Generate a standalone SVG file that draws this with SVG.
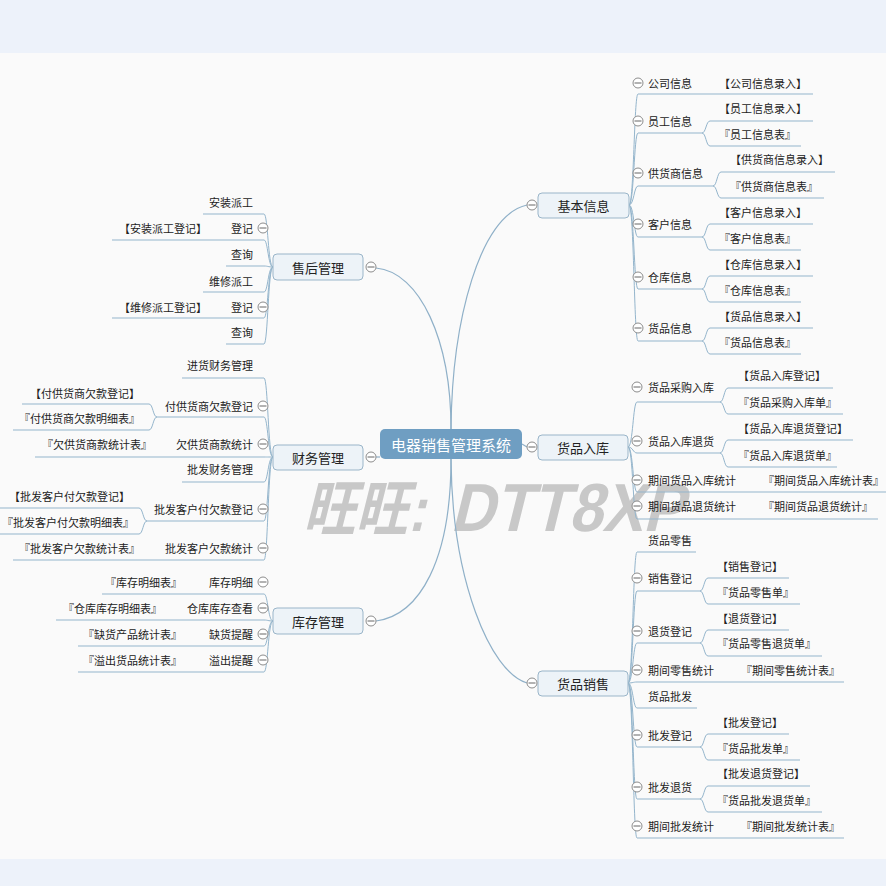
<svg xmlns="http://www.w3.org/2000/svg" xmlns:xlink="http://www.w3.org/1999/xlink" width="886" height="886" viewBox="0 0 886 886">
<defs>
<style>
.ln{fill:none;stroke:#94b5cc;stroke-width:1}
.ct{fill:none;stroke:#8fb0c8;stroke-width:1.2}
.t{font-family:"Noto Sans CJK SC","Microsoft YaHei",sans-serif;font-size:11px;fill:#222;dominant-baseline:central}
.e{text-anchor:end}
.m{font-size:13px;text-anchor:middle}
.box{fill:#edf3f8;stroke:#9ab5c9;stroke-width:1}
.wm{font-family:"Liberation Sans","Noto Sans CJK SC",sans-serif;font-weight:bold;fill:#c8c8c8}
</style>
<g id="tog"><circle r="5" fill="#fff" stroke="#8c8c8c" stroke-width="1"/><path d="M-3.5 0H3.5" stroke="#666" stroke-width="1"/></g>
</defs>
<rect width="886" height="886" fill="#edf2fa"/>
<rect y="53" width="886" height="806" fill="#fafafa"/>

<g id="watermark" transform="translate(0,531) skewX(-14)">
<text class="wm" x="303" y="0" font-size="62" textLength="122" lengthAdjust="spacingAndGlyphs">旺旺:</text>
<text class="wm" x="450" y="0" font-size="68" textLength="233" lengthAdjust="spacingAndGlyphs">DTT8XP</text>
</g>

<g id="connectors">
<path class="ct" d="M376 268 C420 272 451 340 451 429"/>
<path class="ct" d="M451 429 C452 320 480 215 527 205"/>
<path class="ct" d="M451 459 C451 560 420 615 376 621"/>
<path class="ct" d="M451 459 C452 580 490 672 527 683"/>
<path class="ct" d="M376 457 H380"/>
<path class="ct" d="M522 444 L527 447"/>
<path class="ln" d="M629 205 C634 205 634 94 638 94 H813"/>
<path class="ln" d="M629 205 C634 205 634 133 638 133 H702"/>
<path class="ln" d="M702 133 C706 133 706 121 710 121 H813 M702 133 C706 133 706 146 710 146 H801"/>
<path class="ln" d="M629 205 C634 205 634 186 638 186 H713"/>
<path class="ln" d="M713 186 C717 186 717 172 721 172 H835 M713 186 C717 186 717 198 721 198 H824"/>
<path class="ln" d="M629 205 C634 205 634 237 638 237 H702"/>
<path class="ln" d="M702 237 C706 237 706 224 710 224 H813 M702 237 C706 237 706 250 710 250 H801"/>
<path class="ln" d="M629 205 C634 205 634 289 638 289 H702"/>
<path class="ln" d="M702 289 C706 289 706 276 710 276 H813 M702 289 C706 289 706 302 710 302 H801"/>
<path class="ln" d="M629 205 C634 205 634 341 638 341 H702"/>
<path class="ln" d="M702 341 C706 341 706 328 710 328 H813 M702 341 C706 341 706 354 710 354 H801"/>
<path class="ln" d="M628 447 C633 447 633 402 637 402 H720"/>
<path class="ln" d="M720 402 C724 402 724 388 728 388 H833 M720 402 C724 402 724 414 728 414 H843"/>
<path class="ln" d="M628 447 C633 447 633 453 637 453 H720"/>
<path class="ln" d="M720 453 C724 453 724 440 728 440 H853 M720 453 C724 453 724 467 728 467 H837"/>
<path class="ln" d="M628 447 C633 447 633 492 637 492 H886"/>
<path class="ln" d="M628 447 C633 447 633 519 637 519 H878"/>
<path class="ln" d="M628 683 C633 683 633 552 637 552 H696"/>
<path class="ln" d="M628 683 C633 683 633 591 637 591 H700"/>
<path class="ln" d="M700 591 C704 591 704 578 708 578 H789 M700 591 C704 591 704 604 708 604 H800"/>
<path class="ln" d="M628 683 C633 683 633 643 637 643 H700"/>
<path class="ln" d="M700 643 C704 643 704 630 708 630 H789 M700 643 C704 643 704 656 708 656 H822"/>
<path class="ln" d="M628 683 C633 683 633 682 637 682 H844"/>
<path class="ln" d="M628 683 C633 683 633 708 637 708 H697"/>
<path class="ln" d="M628 683 C633 683 633 747 637 747 H700"/>
<path class="ln" d="M700 747 C704 747 704 734 708 734 H789 M700 747 C704 747 704 760 708 760 H800"/>
<path class="ln" d="M628 683 C633 683 633 799 637 799 H700"/>
<path class="ln" d="M700 799 C704 799 704 786 708 786 H810 M700 799 C704 799 704 812 708 812 H822"/>
<path class="ln" d="M628 683 C633 683 633 838 637 838 H844"/>
<path class="ln" d="M273 267 C268 267 268 214 264 214 H203"/>
<path class="ln" d="M273 267 C268 267 268 240 264 240 H112"/>
<path class="ln" d="M273 267 C268 267 268 266 264 266 H226"/>
<path class="ln" d="M273 267 C268 267 268 292 264 292 H203"/>
<path class="ln" d="M273 267 C268 267 268 318 264 318 H112"/>
<path class="ln" d="M273 267 C268 267 268 344 264 344 H226"/>
<path class="ln" d="M273 457 C268 457 268 378 264 378 H182"/>
<path class="ln" d="M273 457 C268 457 268 417 264 417 H157"/>
<path class="ln" d="M157 417 C153 417 153 404 149 404 H22 M157 417 C153 417 153 430 149 430 H13"/>
<path class="ln" d="M273 457 C268 457 268 457 264 457 H35"/>
<path class="ln" d="M273 457 C268 457 268 482 264 482 H182"/>
<path class="ln" d="M273 457 C268 457 268 521 264 521 H147"/>
<path class="ln" d="M147 521 C143 521 143 508 139 508 H0 M147 521 C143 521 143 534 139 534 H0"/>
<path class="ln" d="M273 457 C268 457 268 560 264 560 H13"/>
<path class="ln" d="M273 621 C268 621 268 594 264 594 H102"/>
<path class="ln" d="M273 621 C268 621 268 620 264 620 H56"/>
<path class="ln" d="M273 621 C268 621 268 646 264 646 H78"/>
<path class="ln" d="M273 621 C268 621 268 672 264 672 H78"/>
</g>

<g id="root">
<rect x="380" y="429" width="142" height="30" rx="5" fill="#6f9ec2"/>
<text class="t" x="451" y="444" text-anchor="middle" style="font-size:15px;fill:#fff">电器销售管理系统</text>
</g>

<g id="n-jbxx">
<rect class="box" x="538" y="193" width="91" height="25" rx="4"/>
<text class="t m" x="583.5" y="205.5">基本信息</text>
<use xlink:href="#tog" x="532" y="205"/>
<use xlink:href="#tog" x="638" y="83"/><text class="t" x="648" y="83">公司信息</text>
<text class="t" x="719" y="83">【公司信息录入】</text>
<use xlink:href="#tog" x="638" y="121"/><text class="t" x="648" y="121">员工信息</text>
<text class="t" x="719" y="108">【员工信息录入】</text>
<text class="t" x="719" y="134">『员工信息表』</text>
<use xlink:href="#tog" x="638" y="173"/><text class="t" x="648" y="173">供货商信息</text>
<text class="t" x="730" y="159">【供货商信息录入】</text>
<text class="t" x="730" y="186">『供货商信息表』</text>
<use xlink:href="#tog" x="638" y="224"/><text class="t" x="648" y="224">客户信息</text>
<text class="t" x="719" y="212">【客户信息录入】</text>
<text class="t" x="719" y="238">『客户信息表』</text>
<use xlink:href="#tog" x="638" y="277"/><text class="t" x="648" y="277">仓库信息</text>
<text class="t" x="719" y="264">【仓库信息录入】</text>
<text class="t" x="719" y="290">『仓库信息表』</text>
<use xlink:href="#tog" x="638" y="328"/><text class="t" x="648" y="328">货品信息</text>
<text class="t" x="719" y="316">【货品信息录入】</text>
<text class="t" x="719" y="342">『货品信息表』</text>
</g>

<g id="n-hprk">
<rect class="box" x="538" y="435" width="90" height="25" rx="4"/>
<text class="t m" x="583" y="447.5">货品入库</text>
<use xlink:href="#tog" x="532" y="447"/>
<use xlink:href="#tog" x="637" y="387"/><text class="t" x="648" y="387">货品采购入库</text>
<text class="t" x="738" y="375">【货品入库登记】</text>
<text class="t" x="738" y="402">『货品采购入库单』</text>
<use xlink:href="#tog" x="637" y="441"/><text class="t" x="648" y="441">货品入库退货</text>
<text class="t" x="738" y="428">【货品入库退货登记】</text>
<text class="t" x="738" y="455">『货品入库退货单』</text>
<use xlink:href="#tog" x="637" y="480"/><text class="t" x="648" y="480">期间货品入库统计</text>
<text class="t" x="763" y="480">『期间货品入库统计表』</text>
<use xlink:href="#tog" x="637" y="506"/><text class="t" x="648" y="506">期间货品退货统计</text>
<text class="t" x="763" y="506">『期间货品退货统计』</text>
</g>

<g id="n-hpxs">
<rect class="box" x="538" y="671" width="90" height="25" rx="4"/>
<text class="t m" x="583" y="683.5">货品销售</text>
<use xlink:href="#tog" x="532" y="683"/>
<text class="t" x="648" y="540">货品零售</text>
<use xlink:href="#tog" x="637" y="578"/><text class="t" x="648" y="578">销售登记</text>
<text class="t" x="717" y="566">【销售登记】</text>
<text class="t" x="717" y="592">『货品零售单』</text>
<use xlink:href="#tog" x="637" y="631"/><text class="t" x="648" y="631">退货登记</text>
<text class="t" x="717" y="618">【退货登记】</text>
<text class="t" x="717" y="643">『货品零售退货单』</text>
<use xlink:href="#tog" x="637" y="670"/><text class="t" x="648" y="670">期间零售统计</text>
<text class="t" x="741" y="670">『期间零售统计表』</text>
<text class="t" x="648" y="696">货品批发</text>
<use xlink:href="#tog" x="637" y="735"/><text class="t" x="648" y="735">批发登记</text>
<text class="t" x="717" y="722">【批发登记】</text>
<text class="t" x="717" y="748">『货品批发单』</text>
<use xlink:href="#tog" x="637" y="787"/><text class="t" x="648" y="787">批发退货</text>
<text class="t" x="717" y="773">【批发退货登记】</text>
<text class="t" x="717" y="800">『货品批发退货单』</text>
<use xlink:href="#tog" x="637" y="826"/><text class="t" x="648" y="826">期间批发统计</text>
<text class="t" x="741" y="826">『期间批发统计表』</text>
</g>

<g id="n-shgl">
<rect class="box" x="273" y="254" width="90" height="26" rx="4"/>
<text class="t m" x="318" y="267">售后管理</text>
<use xlink:href="#tog" x="371" y="267"/>
<text class="t e" x="253" y="202">安装派工</text>
<text class="t e" x="253" y="228">登记</text><use xlink:href="#tog" x="263" y="228"/>
<text class="t e" x="207" y="228">【安装派工登记】</text>
<text class="t e" x="253" y="254">查询</text>
<text class="t e" x="253" y="281">维修派工</text>
<text class="t e" x="253" y="307">登记</text><use xlink:href="#tog" x="263" y="307"/>
<text class="t e" x="207" y="307">【维修派工登记】</text>
<text class="t e" x="253" y="332">查询</text>
</g>

<g id="n-cwgl">
<rect class="box" x="273" y="445" width="90" height="25" rx="4"/>
<text class="t m" x="318" y="457.5">财务管理</text>
<use xlink:href="#tog" x="371" y="457"/>
<text class="t e" x="253" y="365">进货财务管理</text>
<text class="t e" x="253" y="406">付供货商欠款登记</text><use xlink:href="#tog" x="263" y="406"/>
<text class="t e" x="140" y="393">【付供货商欠款登记】</text>
<text class="t e" x="140" y="418">『付供货商欠款明细表』</text>
<text class="t e" x="253" y="444">欠供货商款统计</text><use xlink:href="#tog" x="263" y="444"/>
<text class="t e" x="152" y="444">『欠供货商款统计表』</text>
<text class="t e" x="253" y="469">批发财务管理</text>
<text class="t e" x="253" y="509">批发客户付欠款登记</text><use xlink:href="#tog" x="263" y="509"/>
<text class="t e" x="130" y="496">【批发客户付欠款登记】</text>
<text class="t e" x="134" y="522">『批发客户付欠款明细表』</text>
<text class="t e" x="253" y="548">批发客户欠款统计</text><use xlink:href="#tog" x="263" y="548"/>
<text class="t e" x="140" y="548">『批发客户欠款统计表』</text>
</g>

<g id="n-kcgl">
<rect class="box" x="273" y="608" width="90" height="26" rx="4"/>
<text class="t m" x="318" y="621">库存管理</text>
<use xlink:href="#tog" x="371" y="621"/>
<text class="t e" x="253" y="582">库存明细</text><use xlink:href="#tog" x="263" y="582"/>
<text class="t e" x="182" y="582">『库存明细表』</text>
<text class="t e" x="253" y="608">仓库库存查看</text><use xlink:href="#tog" x="263" y="608"/>
<text class="t e" x="162" y="608">『仓库库存明细表』</text>
<text class="t e" x="253" y="634">缺货提醒</text><use xlink:href="#tog" x="263" y="634"/>
<text class="t e" x="182" y="634">『缺货产品统计表』</text>
<text class="t e" x="253" y="660">溢出提醒</text><use xlink:href="#tog" x="263" y="660"/>
<text class="t e" x="182" y="660">『溢出货品统计表』</text>
</g>
</svg>
